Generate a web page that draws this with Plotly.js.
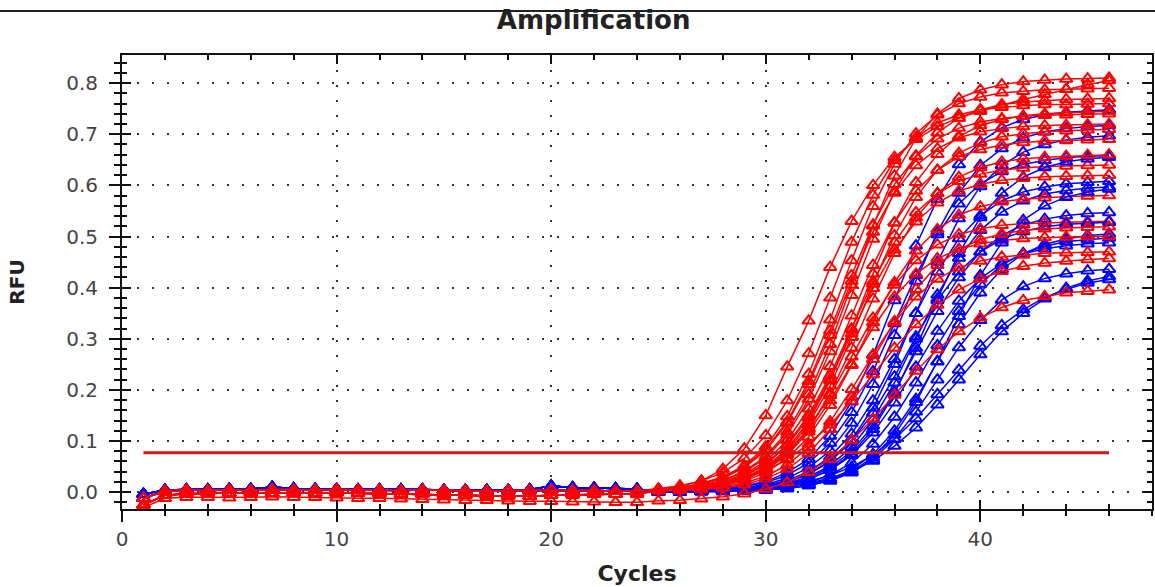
<!DOCTYPE html>
<html><head><meta charset="utf-8">
<script src="https://cdn.plot.ly/plotly-3.0.1.min.js"></script>
<style>html,body{margin:0;padding:0;background:#fff;}#chart{width:1155px;height:587px;}</style>
</head><body><div id="chart"></div>
<script>
// Cycle numbers (x values)
const cycles = [1,2,3,4,5,6,7,8,9,10,11,12,13,14,15,16,17,18,19,20,21,22,23,24,25,26,27,28,29,30,31,32,33,34,35,36,37,38,39,40,41,42,43,44,45,46];

// Baseline readings, cycles 1-24
const baseA = [-0.012,0.002,0.004,0.003,0.004,0.003,0.005,0.004,0.004,0.005,0.004,0.004,0.003,0.004,0.003,0.003,0.002,0.003,0.003,0.004,0.003,0.003,0.002,0.002];
const baseB = [-0.025,-0.006,-0.003,-0.002,-0.002,-0.001,-0.002,-0.001,-0.002,-0.001,-0.002,-0.003,-0.004,-0.004,-0.005,-0.006,-0.007,-0.007,-0.008,-0.006,-0.005,-0.004,-0.004,-0.003];
const baseC = [-0.004,0.004,0.005,0.005,0.006,0.006,0.010,0.007,0.006,0.006,0.005,0.005,0.005,0.005,0.004,0.004,0.004,0.004,0.005,0.012,0.009,0.008,0.007,0.006];
const baseD = [-0.030,-0.012,-0.010,-0.010,-0.011,-0.010,-0.009,-0.010,-0.010,-0.011,-0.012,-0.012,-0.013,-0.014,-0.015,-0.016,-0.016,-0.017,-0.018,-0.018,-0.019,-0.019,-0.020,-0.020];

// Red wells, cycles 25-46
const r1  = [0.006,0.012,0.022,0.045,0.085,0.150,0.245,0.335,0.440,0.530,0.600,0.655,0.690,0.715,0.732,0.745,0.757,0.768,0.778,0.788,0.797,0.805];
const r2  = [0.004,0.007,0.013,0.023,0.041,0.070,0.118,0.191,0.289,0.405,0.521,0.619,0.692,0.740,0.770,0.787,0.797,0.803,0.806,0.808,0.809,0.810];
const r3  = [0.007,0.012,0.022,0.038,0.066,0.111,0.179,0.271,0.380,0.489,0.581,0.649,0.694,0.722,0.738,0.748,0.753,0.756,0.758,0.758,0.759,0.760];
const r4  = [0.005,0.009,0.017,0.030,0.052,0.089,0.148,0.231,0.337,0.453,0.559,0.642,0.701,0.738,0.760,0.773,0.781,0.784,0.787,0.788,0.789,0.790];
const r5  = [0.005,0.009,0.015,0.027,0.048,0.081,0.135,0.211,0.307,0.413,0.509,0.585,0.639,0.672,0.693,0.705,0.711,0.715,0.717,0.718,0.719,0.720];
const r6  = [0.004,0.007,0.012,0.022,0.039,0.067,0.112,0.182,0.275,0.385,0.495,0.588,0.658,0.703,0.732,0.748,0.758,0.763,0.766,0.768,0.769,0.770];
const r7  = [0.003,0.006,0.011,0.020,0.035,0.060,0.101,0.163,0.246,0.345,0.444,0.527,0.589,0.630,0.656,0.670,0.679,0.684,0.687,0.688,0.689,0.690];
const r8  = [0.003,0.006,0.010,0.018,0.032,0.056,0.093,0.151,0.228,0.320,0.412,0.489,0.547,0.584,0.608,0.622,0.630,0.634,0.637,0.638,0.639,0.640];
const r9  = [0.003,0.005,0.009,0.016,0.028,0.049,0.084,0.139,0.218,0.318,0.427,0.527,0.606,0.661,0.696,0.717,0.729,0.736,0.740,0.742,0.744,0.745];
const r10 = [0.003,0.004,0.008,0.014,0.025,0.044,0.075,0.123,0.193,0.282,0.378,0.467,0.537,0.585,0.616,0.635,0.646,0.652,0.655,0.657,0.659,0.660];
const r11 = [0.003,0.006,0.010,0.018,0.031,0.054,0.091,0.146,0.221,0.310,0.399,0.474,0.529,0.566,0.589,0.602,0.610,0.614,0.617,0.618,0.619,0.620];
const r12 = [0.003,0.005,0.008,0.015,0.027,0.046,0.077,0.125,0.189,0.265,0.341,0.405,0.453,0.484,0.504,0.515,0.522,0.525,0.527,0.528,0.529,0.530];
const r13 = [0.002,0.004,0.007,0.012,0.022,0.038,0.066,0.108,0.170,0.248,0.332,0.410,0.472,0.514,0.542,0.558,0.568,0.573,0.576,0.578,0.579,0.580];
const r14 = [0.003,0.005,0.008,0.014,0.025,0.043,0.073,0.118,0.179,0.250,0.322,0.382,0.427,0.457,0.475,0.486,0.492,0.496,0.498,0.499,0.500,0.500];
const r15 = [0.002,0.003,0.006,0.010,0.018,0.031,0.053,0.088,0.138,0.201,0.269,0.332,0.382,0.417,0.439,0.452,0.460,0.464,0.467,0.468,0.469,0.470];
const r16 = [0.005,0.008,0.012,0.018,0.028,0.043,0.064,0.094,0.132,0.178,0.230,0.282,0.328,0.366,0.396,0.417,0.432,0.442,0.448,0.452,0.455,0.457];
const r17 = [-0.017,-0.016,-0.013,-0.009,-0.003,0.006,0.019,0.039,0.065,0.101,0.143,0.190,0.237,0.279,0.314,0.341,0.361,0.375,0.383,0.390,0.393,0.396];
const r18 = [0.003,0.005,0.009,0.015,0.027,0.047,0.080,0.133,0.208,0.303,0.407,0.502,0.577,0.630,0.663,0.683,0.695,0.701,0.705,0.707,0.709,0.710];
const r19 = [0.002,0.003,0.005,0.008,0.015,0.026,0.045,0.076,0.123,0.186,0.260,0.334,0.397,0.444,0.475,0.494,0.505,0.512,0.515,0.517,0.518,0.519];
const r20 = [0.005,0.009,0.016,0.028,0.049,0.084,0.138,0.217,0.316,0.424,0.523,0.602,0.656,0.691,0.712,0.724,0.731,0.735,0.737,0.738,0.739,0.740];

// Blue wells, cycles 25-46
const b1  = [0.001,0.002,0.004,0.007,0.012,0.021,0.038,0.065,0.110,0.177,0.268,0.375,0.482,0.573,0.641,0.685,0.713,0.729,0.738,0.743,0.746,0.748];
const b2  = [0.001,0.001,0.003,0.005,0.009,0.015,0.027,0.048,0.081,0.135,0.211,0.307,0.413,0.509,0.585,0.639,0.672,0.693,0.705,0.711,0.715,0.717];
const b3  = [0.001,0.002,0.003,0.006,0.011,0.019,0.033,0.057,0.096,0.156,0.236,0.330,0.424,0.504,0.564,0.603,0.627,0.641,0.649,0.654,0.657,0.658];
const b4  = [0.001,0.001,0.002,0.004,0.006,0.011,0.020,0.035,0.061,0.102,0.165,0.250,0.350,0.450,0.535,0.598,0.639,0.665,0.680,0.689,0.694,0.697];
const b5  = [0.001,0.001,0.002,0.004,0.007,0.013,0.023,0.040,0.069,0.114,0.179,0.260,0.350,0.431,0.496,0.541,0.570,0.587,0.597,0.603,0.606,0.608];
const b6  = [0.001,0.001,0.002,0.003,0.005,0.010,0.017,0.030,0.052,0.088,0.142,0.214,0.300,0.386,0.458,0.512,0.548,0.570,0.583,0.590,0.595,0.597];
const b7  = [0.001,0.001,0.002,0.003,0.005,0.009,0.016,0.028,0.048,0.080,0.130,0.196,0.275,0.354,0.420,0.470,0.502,0.523,0.534,0.541,0.545,0.547];
const b8  = [0.000,0.001,0.001,0.002,0.003,0.006,0.011,0.019,0.033,0.057,0.094,0.147,0.214,0.287,0.354,0.407,0.444,0.467,0.481,0.490,0.494,0.497];
const b9  = [0.000,0.001,0.001,0.003,0.004,0.008,0.014,0.025,0.044,0.075,0.123,0.193,0.282,0.378,0.467,0.537,0.585,0.616,0.635,0.646,0.652,0.655];
const b10 = [0.000,0.001,0.001,0.002,0.003,0.005,0.008,0.015,0.026,0.044,0.074,0.120,0.182,0.255,0.328,0.390,0.436,0.466,0.485,0.495,0.502,0.505];
const b11 = [0.000,0.000,0.001,0.001,0.002,0.004,0.007,0.013,0.022,0.038,0.064,0.104,0.157,0.220,0.283,0.336,0.376,0.402,0.418,0.427,0.433,0.436];
const b12 = [0.000,0.001,0.001,0.002,0.004,0.008,0.014,0.025,0.043,0.072,0.116,0.175,0.245,0.315,0.374,0.418,0.447,0.466,0.476,0.482,0.486,0.488];
const b13 = [0.001,0.001,0.002,0.004,0.006,0.009,0.014,0.021,0.033,0.049,0.073,0.104,0.144,0.191,0.239,0.286,0.326,0.357,0.381,0.397,0.409,0.416];
const b14 = [0.001,0.001,0.002,0.003,0.005,0.007,0.011,0.018,0.027,0.041,0.061,0.090,0.126,0.171,0.220,0.269,0.314,0.350,0.378,0.399,0.413,0.422];
const b15 = [0.001,0.001,0.002,0.004,0.006,0.011,0.020,0.035,0.060,0.099,0.155,0.226,0.304,0.375,0.431,0.470,0.495,0.510,0.519,0.524,0.526,0.528];
const b16 = [0.000,0.000,0.001,0.001,0.002,0.004,0.007,0.013,0.023,0.040,0.068,0.112,0.176,0.256,0.344,0.424,0.488,0.532,0.560,0.577,0.587,0.593];

// Threshold
const thresholdX = [1, 46];
const thresholdValue = 0.077;

// Tick labels
const xTickVals = [0, 10, 20, 30, 40];
const xTickText = ['0', '10', '20', '30', '40'];
const yTickVals = [0, 0.1, 0.2, 0.3, 0.4, 0.5, 0.6, 0.7, 0.8];
const yTickText = ['0.0', '0.1', '0.2', '0.3', '0.4', '0.5', '0.6', '0.7', '0.8'];

const blueWells = [[baseC,b1],[baseA,b2],[baseC,b3],[baseA,b4],[baseC,b5],[baseA,b6],[baseC,b7],[baseA,b8],
                   [baseC,b9],[baseA,b10],[baseC,b11],[baseA,b12],[baseC,b13],[baseA,b14],[baseC,b15],[baseA,b16]];
const redWells = [[baseA,r1],[baseB,r2],[baseA,r3],[baseB,r4],[baseA,r5],[baseB,r6],[baseA,r7],[baseB,r8],[baseA,r9],[baseB,r10],
                  [baseA,r11],[baseB,r12],[baseA,r13],[baseB,r14],[baseB,r15],[baseA,r16],[baseD,r17],[baseA,r18],[baseB,r19],[baseA,r20]];

const RED = 'rgb(255,0,0)';
const BLUE = 'rgb(0,0,255)';
const traces = [];
function curve(pair, color) {
  return {
    type: 'scatter', mode: 'lines+markers', x: cycles, y: pair[0].concat(pair[1]),
    line: {color: color, width: 1.5},
    marker: {symbol: 'triangle-up-open', size: 11, color: color, line: {color: color, width: 2}},
    hoverinfo: 'skip', xaxis: 'x', yaxis: 'y', showlegend: false
  };
}
const n = Math.max(blueWells.length, redWells.length);
for (let i = 0; i < n; i++) {
  if (i < blueWells.length) traces.push(curve(blueWells[i], BLUE));
  if (i < redWells.length) traces.push(curve(redWells[i], RED));
}
traces.push({
  type: 'scatter', mode: 'lines', x: thresholdX, y: [thresholdValue, thresholdValue],
  line: {color: 'rgb(205,25,25)', width: 3}, hoverinfo: 'skip', xaxis: 'x2', yaxis: 'y2', showlegend: false
});

const FONT = 'DejaVu Sans, Arial, sans-serif';
const AX = '#111';
const layout = {
  width: 1155, height: 587,
  margin: {l: 122, r: 3, t: 55, b: 78, pad: 0},
  paper_bgcolor: '#ffffff', plot_bgcolor: '#ffffff',
  showlegend: false,
  title: {text: '<b>Amplification</b>', font: {family: FONT, size: 26, color: '#222'},
          x: 0.514, xref: 'container', xanchor: 'center', y: 1 - 20/587, yref: 'container', yanchor: 'middle'},
  xaxis: {
    range: [0, 48], tickmode: 'array', tickvals: xTickVals, ticktext: xTickText,
    ticks: 'outside', ticklen: 11, tickwidth: 2, tickcolor: AX,
    showline: true, linecolor: AX, linewidth: 2, mirror: true,
    showgrid: true, gridcolor: '#333', gridwidth: 2, griddash: '2px,13px', zeroline: false,
    tickfont: {family: FONT, size: 20, color: '#444'},
    minor: {dtick: 2, tick0: 0, ticks: 'outside', ticklen: 5, tickwidth: 2, tickcolor: AX, showgrid: false},
    title: {text: '<b>Cycles</b>', font: {family: FONT, size: 22, color: '#222'}, standoff: 16}
  },
  yaxis: {
    range: [-0.033, 0.855], tickmode: 'array', tickvals: yTickVals, ticktext: yTickText,
    ticks: 'outside', ticklen: 11, tickwidth: 2, tickcolor: AX, ticklabelstandoff: 7,
    showline: true, linecolor: AX, linewidth: 2, mirror: true,
    showgrid: true, gridcolor: '#333', gridwidth: 2, griddash: '2px,13px', zeroline: false,
    tickfont: {family: FONT, size: 20, color: '#444'},
    minor: {dtick: 0.02, tick0: 0, ticks: 'outside', ticklen: 6, tickwidth: 2, tickcolor: AX, showgrid: false},
    title: {text: '<b>RFU</b>', font: {family: FONT, size: 20, color: '#222'}, standoff: 36}
  },
  xaxis2: {
    overlaying: 'x', anchor: 'y2', range: [0, 48], tickmode: 'array', tickvals: xTickVals,
    ticks: 'inside', ticklen: 9, tickwidth: 2, tickcolor: AX, showticklabels: false,
    showline: true, linecolor: AX, linewidth: 2, mirror: 'ticks', showgrid: false, zeroline: false,
    minor: {dtick: 2, tick0: 0, ticks: 'inside', ticklen: 5, tickwidth: 2, tickcolor: AX, showgrid: false}
  },
  yaxis2: {
    overlaying: 'y', anchor: 'x2', side: 'left', range: [-0.033, 0.855], tickmode: 'array', tickvals: yTickVals,
    ticks: 'inside', ticklen: 9, tickwidth: 2, tickcolor: AX, showticklabels: false,
    showline: true, linecolor: AX, linewidth: 2, mirror: 'ticks', showgrid: false, zeroline: false,
    minor: {dtick: 0.02, tick0: 0, ticks: 'inside', ticklen: 5, tickwidth: 2, tickcolor: AX, showgrid: false}
  },
  shapes: [{type: 'line', xref: 'paper', yref: 'paper', x0: -0.12, x1: 1.003, y0: 1.097, y1: 1.097,
            line: {color: '#222', width: 2}}]
};

Plotly.newPlot('chart', traces, layout, {displayModeBar: false, staticPlot: true});
</script>
</body></html>
